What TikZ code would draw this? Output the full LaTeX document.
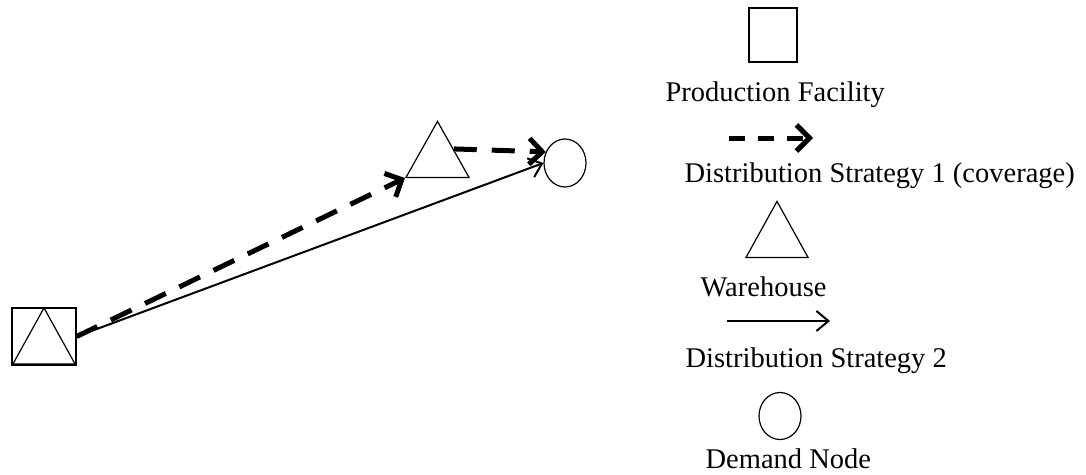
\documentclass[tikz,border=0pt]{standalone}
\usepackage{fontspec}
\setmainfont{Liberation Serif}
\usetikzlibrary{arrows.meta,shapes.geometric,positioning}

\begin{document}
\begin{tikzpicture}[x=1pt,y=-1pt,font=\fontsize{28.5}{34}\selectfont,line width=1.2pt,
  facility/.style={draw,inner sep=0pt,minimum width=#1},
  depot/.style={draw,isosceles triangle,isosceles triangle stretches,shape border rotate=90,inner sep=0pt,anchor=lower side},
  demand/.style={draw,ellipse,inner sep=0pt,minimum width=42pt},
  cover/.style={line width=5pt,dash pattern=on #1 off 15pt,-{Straight Barb[length=13pt,width=26pt]}},
  direct/.style={line width=2pt,-{Straight Barb[length=12pt,width=20pt]}},
  lbl/.style={anchor=base west,inner sep=0pt}]
\useasboundingbox (0,0) rectangle (1086,474);

% network: plant, warehouse, customer
\node[facility=64pt,minimum height=57pt] (pf) at (44,336.5) {};
\node[depot,minimum width=62pt,minimum height=56pt] (pfw) at (44,364.5) {};
\node[depot,minimum width=63pt,minimum height=56pt] (wh) at (437.5,178) {};
\node[demand,minimum height=48pt] (dn) at (565,163) {};

\draw[cover=23pt] (pf.east) -- (wh.left corner);
\draw[cover=23pt] (wh.right side) -- (dn.150);
\draw[direct] (pf.east) -- (dn.west);

% legend
\node[facility=48pt,minimum height=54pt] (lpf) at (773,35) {};
\node[lbl] (tpf) at (665,101) {Production Facility};
\coordinate (c1a) at (729,138);
\coordinate (c1b) at (813,138);
\draw[cover=16pt,dash pattern=on 16pt off 13pt] (c1a) -- (c1b);
\node[lbl] (tc1) at (684,182) {Distribution Strategy 1 (coverage)};
\node[depot,minimum width=62pt,minimum height=56pt] (lwh) at (777,258) {};
\node[lbl] (twh) at (700,296) {Warehouse};
\coordinate (c2a) at (727,321);
\coordinate (c2b) at (830,321);
\draw[direct] (c2a) -- (c2b);
\node[lbl] (tc2) at (685,367) {Distribution Strategy 2};
\node[demand,minimum height=47pt] (ldn) at (780,416) {};
\node[lbl] (tdn) at (705,468) {Demand Node};
\end{tikzpicture}
\end{document}
